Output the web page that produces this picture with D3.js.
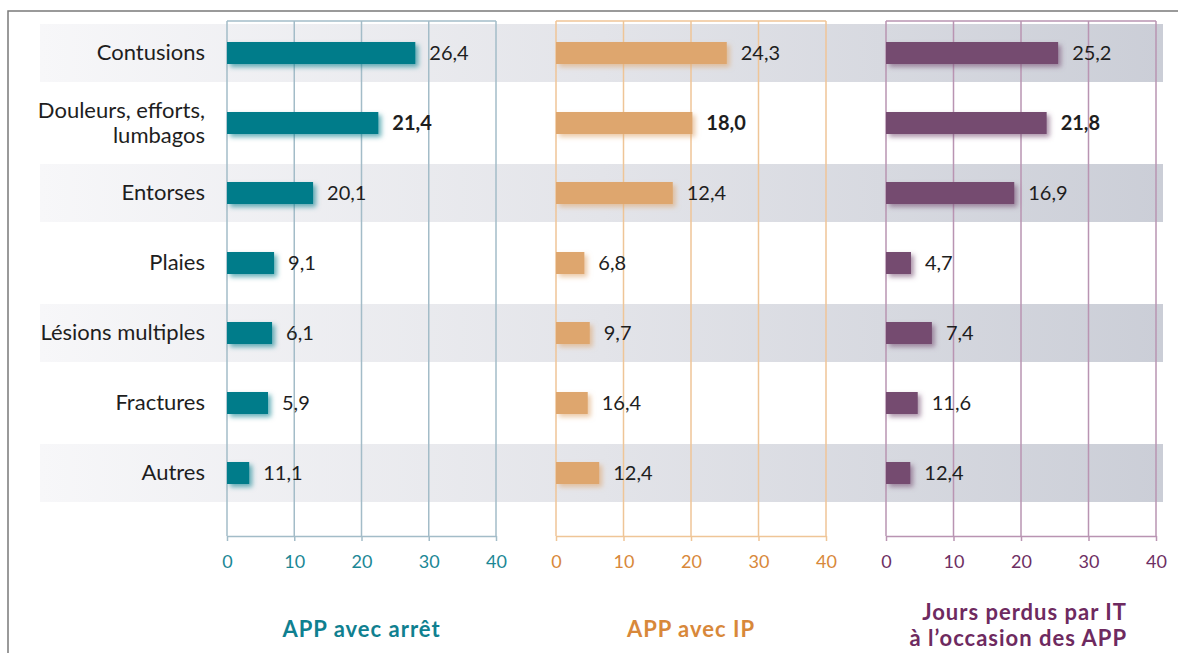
<!DOCTYPE html>
<html>
<head>
<meta charset="utf-8">
<script src="https://cdn.jsdelivr.net/npm/d3@7"></script>
<style>
body { margin: 0; background: #fff; }
svg { display: block; font-family: Lato, "Open Sans", sans-serif; }
</style>
</head>
<body>
<script>
var categories = ['Contusions', 'Douleurs, efforts, lumbagos', 'Entorses', 'Plaies', 'Lésions multiples', 'Fractures', 'Autres'];
var categoryLines = [['Contusions'], ['Douleurs, efforts,', 'lumbagos'], ['Entorses'], ['Plaies'], ['Lésions multiples'], ['Fractures'], ['Autres']];

// bar lengths as drawn in the picture
var arretBars = [28.0, 22.5, 12.8, 7.0, 6.7, 6.1, 3.3];
var ipBars = [25.3, 20.2, 17.3, 4.2, 5.0, 4.7, 6.4];
var joursBars = [25.5, 23.8, 19.0, 3.7, 6.8, 4.7, 3.6];

// printed value labels
var arretLabels = ['26,4', '21,4', '20,1', '9,1', '6,1', '5,9', '11,1'];
var ipLabels = ['24,3', '18,0', '12,4', '6,8', '9,7', '16,4', '12,4'];
var joursLabels = ['25,2', '21,8', '16,9', '4,7', '7,4', '11,6', '12,4'];

var boldRow = 'Douleurs, efforts, lumbagos';
var tickValues = [0, 10, 20, 30, 40];

var panels = [
	{ name: 'arret', bars: arretBars, labels: arretLabels, x0: 227, x1: 496,
	  bar: '#007b8a', grid: '#a3bcc8', tick: '#1b8795', title: ['APP avec arrêt'], titleColor: '#0f8090' },
	{ name: 'ip', bars: ipBars, labels: ipLabels, x0: 556, x1: 826,
	  bar: '#dea66e', grid: '#efc597', tick: '#d8883a', title: ['APP avec IP'], titleColor: '#d8883a' },
	{ name: 'jours', bars: joursBars, labels: joursLabels, x0: 886, x1: 1156,
	  bar: '#744c70', grid: '#b994b2', tick: '#6e2f63', title: ['Jours perdus par IT', 'à l\u2019occasion des APP'], titleColor: '#6e2a60' }
];

var W = 1178, H = 653;
var gridTop = 21, axisY = 536;

var svg = d3.select('body').append('svg')
	.attr('width', W)
	.attr('height', H);

var defs = svg.append('defs');
var grad = defs.append('linearGradient')
	.attr('id', 'bandGrad')
	.attr('gradientUnits', 'userSpaceOnUse')
	.attr('x1', 40).attr('x2', 1163).attr('y1', 0).attr('y2', 0);
grad.append('stop').attr('offset', '0%').attr('stop-color', '#f7f7f9');
grad.append('stop').attr('offset', '50%').attr('stop-color', '#e3e4e9');
grad.append('stop').attr('offset', '100%').attr('stop-color', '#cbced7');

panels.forEach(function(p){
	var f = defs.append('filter')
		.attr('id', 'shadow-' + p.name)
		.attr('x', '-20%').attr('y', '-40%')
		.attr('width', '160%').attr('height', '200%');
	f.append('feDropShadow')
		.attr('dx', 3).attr('dy', 3)
		.attr('stdDeviation', 2.5)
		.attr('flood-color', p.bar)
		.attr('flood-opacity', 0.6);
});

// outer frame
svg.append('rect')
	.attr('x', 8).attr('y', 11)
	.attr('width', 1300).attr('height', 800)
	.attr('fill', 'none')
	.attr('stroke', '#7a7a7a')
	.attr('stroke-width', 1.5);

var y = d3.scaleBand()
	.domain(categories)
	.range([18, 508]);

// alternating row bands
svg.append('g')
	.selectAll('rect')
	.data(categories.filter(function(d, i){ return i % 2 === 0; }))
	.enter()
	.append('rect')
	.attr('x', 40)
	.attr('width', 1163 - 40)
	.attr('y', function(d){ return y(d) + y.bandwidth() / 2 - 29; })
	.attr('height', 58)
	.attr('fill', 'url(#bandGrad)');

// category labels
var catG = svg.append('g')
	.selectAll('text')
	.data(categories)
	.enter()
	.append('text')
	.attr('x', 205)
	.attr('text-anchor', 'end')
	.attr('fill', '#1e1e1e')
	.style('font-size', '22px');

catG.each(function(d, i){
	var lines = categoryLines[i];
	var cy = y(d) + y.bandwidth() / 2;
	var t = d3.select(this);
	lines.forEach(function(line, j){
		t.append('tspan')
			.attr('x', 205)
			.attr('y', cy + 7 + (j - (lines.length - 1) / 2) * 25)
			.text(line);
	});
});

panels.forEach(function(p){
	var x = d3.scaleLinear().domain([0, 40]).range([p.x0, p.x1]);
	var g = svg.append('g');

	// grid box
	g.append('line')
		.attr('x1', x(0)).attr('x2', x(40))
		.attr('y1', gridTop).attr('y2', gridTop)
		.attr('stroke', p.grid).attr('stroke-width', 1.5);
	g.selectAll('.grid')
		.data(tickValues)
		.enter()
		.append('line')
		.attr('class', 'grid')
		.attr('x1', function(d){ return x(d); })
		.attr('x2', function(d){ return x(d); })
		.attr('y1', gridTop).attr('y2', axisY)
		.attr('stroke', p.grid)
		.attr('stroke-width', 1.5);

	var axis = d3.axisBottom(x)
		.tickValues(tickValues)
		.tickFormat(d3.format('d'))
		.tickSizeInner(5)
		.tickSizeOuter(0)
		.tickPadding(14);
	var ax = g.append('g')
		.attr('transform', 'translate(0,' + axisY + ')')
		.call(axis);
	ax.select('.domain').attr('stroke', p.grid).attr('stroke-width', 1.5);
	ax.selectAll('.tick line').attr('stroke', p.grid).attr('stroke-width', 1.5);
	ax.selectAll('.tick text')
		.attr('fill', p.tick)
		.style('font-size', '18px')
		.style('font-family', 'Lato, sans-serif');

	// bars
	g.selectAll('.bar')
		.data(categories)
		.enter()
		.append('rect')
		.attr('class', 'bar')
		.attr('x', x(0))
		.attr('y', function(d){ return y(d) + y.bandwidth() / 2 - 11; })
		.attr('height', 22)
		.attr('width', function(d, i){ return x(p.bars[i]) - x(0); })
		.attr('fill', p.bar)
		.attr('filter', 'url(#shadow-' + p.name + ')');

	// value labels
	g.selectAll('.val')
		.data(categories)
		.enter()
		.append('text')
		.attr('class', 'val')
		.attr('x', function(d, i){ return x(p.bars[i]) + 14; })
		.attr('y', function(d){ return y(d) + y.bandwidth() / 2 + 7; })
		.attr('fill', '#1e1e1e')
		.style('font-size', '20px')
		.style('font-weight', function(d){ return d === boldRow ? 'bold' : 'normal'; })
		.text(function(d, i){ return p.labels[i]; });

	// panel title
	var cx = (p.x0 + p.x1) / 2;
	var tt = g.append('text')
		.attr('text-anchor', p.title.length > 1 ? 'end' : 'middle')
		.attr('fill', p.titleColor)
		.style('font-size', '22px')
		.style('font-weight', 'bold')
		.style('letter-spacing', '1px');
	p.title.forEach(function(line, j){
		tt.append('tspan')
			.attr('x', p.title.length > 1 ? 1127 : cx)
			.attr('y', p.title.length > 1 ? 620 + j * 26 : 637)
			.text(line);
	});
});
</script>
</body>
</html>
